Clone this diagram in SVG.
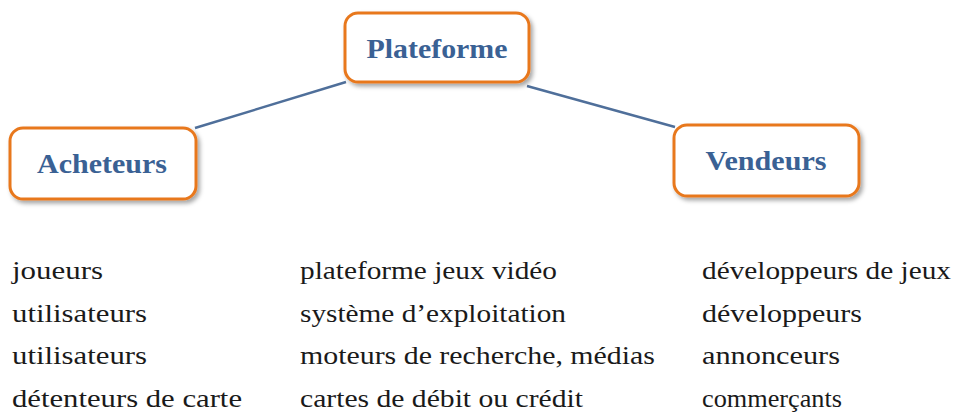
<svg xmlns="http://www.w3.org/2000/svg" width="954" height="412" viewBox="0 0 954 412">
  <style>
    .box { fill: #ffffff; stroke: #E8781F; stroke-width: 3; filter: url(#shadow); }
    .title { font-family: "Liberation Serif", "DejaVu Serif", serif; font-weight: bold; font-size: 27px; fill: #3A6194; text-anchor: middle; }
    .item { font-family: "Liberation Serif", "DejaVu Serif", serif; font-size: 25px; fill: #1a1a1a; }
    .link { stroke: #4F6F9A; stroke-width: 2.4; fill: none; }
  </style>
  <defs>
    <filter id="shadow" x="-10%" y="-20%" width="125%" height="150%">
      <feDropShadow dx="2.5" dy="3" stdDeviation="2" flood-color="#000000" flood-opacity="0.35"/>
    </filter>
  </defs>
  <rect width="954" height="412" fill="#ffffff"/>

  <g id="connectors">
    <line class="link" x1="195" y1="128" x2="346" y2="82"/>
    <line class="link" x1="527" y1="86" x2="675" y2="127"/>
  </g>

  <g id="plateforme">
    <rect class="box" x="345" y="13" width="184" height="69" rx="13"/>
    <text class="title" x="437" y="58" textLength="141" lengthAdjust="spacingAndGlyphs">Plateforme</text>
  </g>

  <g id="acheteurs">
    <rect class="box" x="10" y="128" width="186" height="71" rx="13"/>
    <text class="title" x="102" y="173" textLength="130" lengthAdjust="spacingAndGlyphs">Acheteurs</text>
  </g>

  <g id="vendeurs">
    <rect class="box" x="674" y="125" width="185" height="71" rx="13"/>
    <text class="title" x="766" y="170" textLength="121" lengthAdjust="spacingAndGlyphs">Vendeurs</text>
  </g>

  <g id="buyers-list">
    <text class="item" x="12" y="279" textLength="91" lengthAdjust="spacingAndGlyphs">joueurs</text>
    <text class="item" x="12" y="322" textLength="135" lengthAdjust="spacingAndGlyphs">utilisateurs</text>
    <text class="item" x="12" y="364" textLength="135" lengthAdjust="spacingAndGlyphs">utilisateurs</text>
    <text class="item" x="12" y="407" textLength="230" lengthAdjust="spacingAndGlyphs">détenteurs de carte</text>
  </g>

  <g id="platforms-list">
    <text class="item" x="300" y="279" textLength="257" lengthAdjust="spacingAndGlyphs">plateforme jeux vidéo</text>
    <text class="item" x="300" y="322" textLength="266" lengthAdjust="spacingAndGlyphs">système d’exploitation</text>
    <text class="item" x="300" y="364" textLength="355" lengthAdjust="spacingAndGlyphs">moteurs de recherche, médias</text>
    <text class="item" x="300" y="407" textLength="283" lengthAdjust="spacingAndGlyphs">cartes de débit ou crédit</text>
  </g>

  <g id="sellers-list">
    <text class="item" x="702" y="279" textLength="249" lengthAdjust="spacingAndGlyphs">développeurs de jeux</text>
    <text class="item" x="702" y="322" textLength="160" lengthAdjust="spacingAndGlyphs">développeurs</text>
    <text class="item" x="702" y="364" textLength="138" lengthAdjust="spacingAndGlyphs">annonceurs</text>
    <text class="item" x="702" y="407" textLength="140" lengthAdjust="spacingAndGlyphs">commerçants</text>
  </g>
</svg>
